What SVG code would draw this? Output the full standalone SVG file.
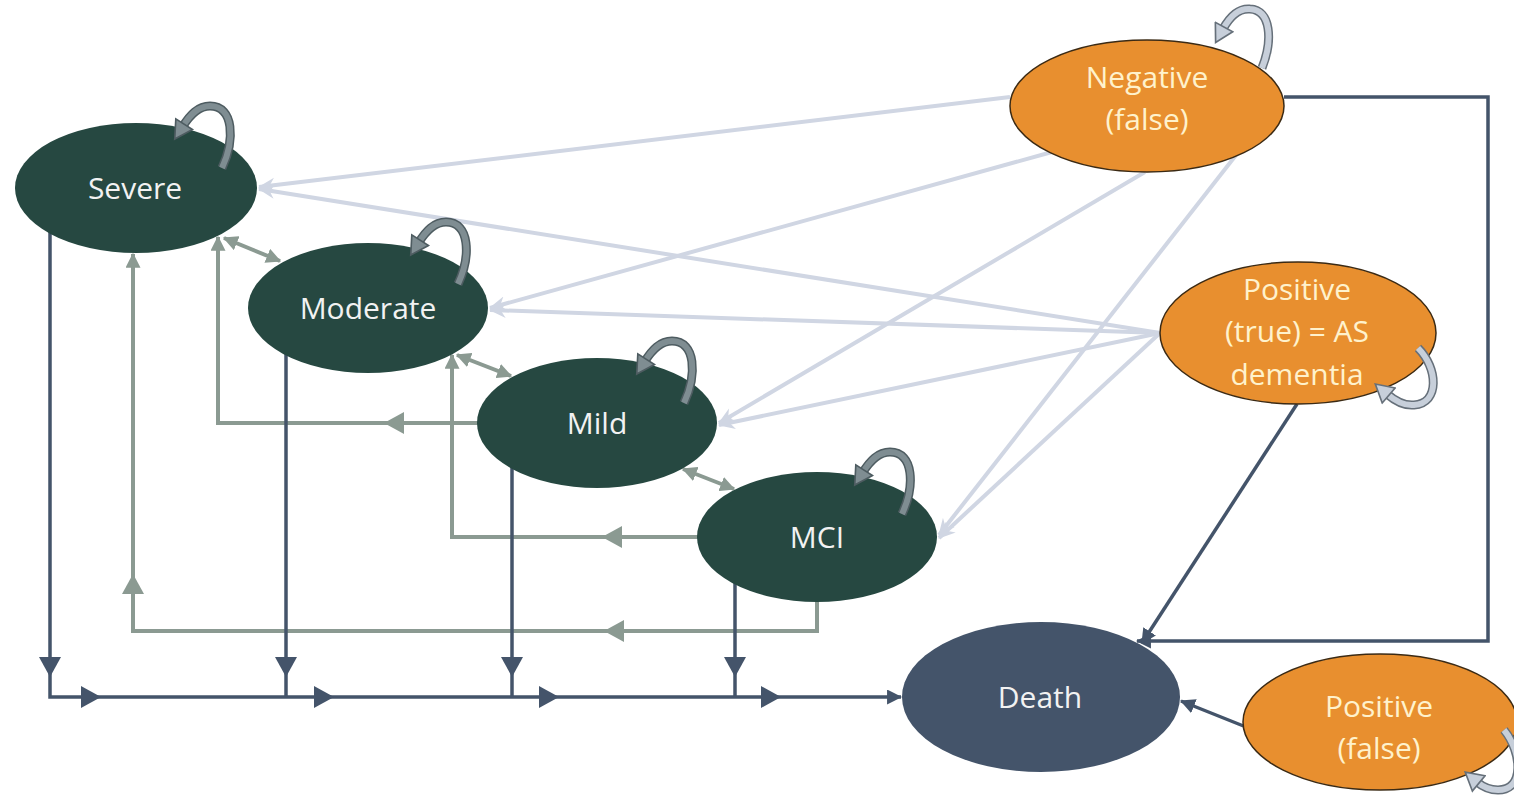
<svg xmlns="http://www.w3.org/2000/svg" xmlns:xlink="http://www.w3.org/1999/xlink" width="1514" height="796" viewBox="0 0 1514 796">
<style>
.bg{fill:#ffffff}
.dk{fill:#264841}
.death{fill:#44546A}
.or{fill:#E88F2F;stroke:#3B2A14;stroke-width:1.5}
.t{font-family:"Open Sans","Liberation Sans",sans-serif;font-size:30px;text-anchor:middle}
.tw{fill:#F2F2F2}
.tc{fill:#FFF2CC}
.blue{fill:none;stroke:#44546A;stroke-width:3.5;stroke-linejoin:miter}
.grey{fill:none;stroke:#8B9A92;stroke-width:4;stroke-linejoin:miter}
.light{fill:none;stroke:#D0D6E3;stroke-width:4}
.triB{fill:#44546A}
.triG{fill:#8B9A92}
.dlO{fill:none;stroke:#4E5C61;stroke-width:9;stroke-linecap:butt}
.dlI{fill:none;stroke:#7F8D92;stroke-width:6;stroke-linecap:butt}
.llO{fill:none;stroke:#66707A;stroke-width:9;stroke-linecap:butt}
.llI{fill:none;stroke:#C7CFDA;stroke-width:6;stroke-linecap:butt}
</style>
<defs>
<marker id="ahG" viewBox="0 0 12 12" refX="11" refY="6" markerWidth="15" markerHeight="15" markerUnits="userSpaceOnUse" orient="auto-start-reverse"><path d="M0 0 L12 6 L0 12 Z" fill="#8B9A92"/></marker>
<marker id="ahB" viewBox="0 0 14 14" refX="13" refY="7" markerWidth="15" markerHeight="15" markerUnits="userSpaceOnUse" orient="auto"><path d="M0 0 L14 7 L0 14 Z" fill="#44546A"/></marker>
<marker id="ahL" viewBox="0 0 16 16" refX="15" refY="8" markerWidth="17" markerHeight="17" markerUnits="userSpaceOnUse" orient="auto"><path d="M0 1 L16 8 L0 15 L5 8 Z" fill="#D0D6E3"/></marker>
<marker id="ahDL" viewBox="0 0 20 20" refX="4" refY="10" markerWidth="22" markerHeight="22" markerUnits="userSpaceOnUse" orient="auto"><path d="M2 1 L18 10 L2 19 Z" fill="#7F8D92" stroke="#4E5C61" stroke-width="1.5"/></marker>
<marker id="ahLL" viewBox="0 0 20 20" refX="4" refY="10" markerWidth="22" markerHeight="22" markerUnits="userSpaceOnUse" orient="auto"><path d="M2 1 L18 10 L2 19 Z" fill="#C7CFDA" stroke="#66707A" stroke-width="1.5"/></marker>
<path id="tri" d="M0 0 L-20 -11 L-20 11 Z"/>
<g id="darkLoop">
<path class="dlO" d="M86 -20 C99 -48 98 -82 74 -82 C62 -82 54 -73 47 -62"/>
<path class="dlI" d="M86 -20 C99 -48 98 -82 74 -82 C62 -82 54 -73 47 -62" marker-end="url(#ahDL)"/>
</g>
</defs>
<rect class="bg" x="0" y="0" width="1514" height="796"/>

<g id="connectors">
<line class="light" x1="1010" y1="97" x2="259" y2="187" marker-end="url(#ahL)"/>
<line class="light" x1="1052" y1="152" x2="490" y2="308" marker-end="url(#ahL)"/>
<line class="light" x1="1145" y1="172" x2="719" y2="423" marker-end="url(#ahL)"/>
<line class="light" x1="1240" y1="150" x2="939" y2="535" marker-end="url(#ahL)"/>
<line class="light" x1="1160" y1="333" x2="259" y2="189" marker-end="url(#ahL)"/>
<line class="light" x1="1160" y1="333" x2="490" y2="310" marker-end="url(#ahL)"/>
<line class="light" x1="1160" y1="333" x2="719" y2="425" marker-end="url(#ahL)"/>
<line class="light" x1="1160" y1="333" x2="939" y2="538" marker-end="url(#ahL)"/>

<polyline class="grey" points="500,423 218,423 218,237" marker-end="url(#ahG)"/>
<polyline class="grey" points="720,537 452,537 452,355" marker-end="url(#ahG)"/>
<polyline class="grey" points="817,590 817,631 133,631 133,254" marker-end="url(#ahG)"/>
<use href="#tri" class="triG" transform="translate(384,423) rotate(180)"/>
<use href="#tri" class="triG" transform="translate(602,537) rotate(180)"/>
<use href="#tri" class="triG" transform="translate(604,631) rotate(180)"/>
<use href="#tri" class="triG" transform="translate(133,574) rotate(-90)"/>

<line class="grey" x1="224" y1="238" x2="280" y2="261" marker-start="url(#ahG)" marker-end="url(#ahG)"/>
<line class="grey" x1="457" y1="355" x2="511" y2="376" marker-start="url(#ahG)" marker-end="url(#ahG)"/>
<line class="grey" x1="683" y1="469" x2="734" y2="489" marker-start="url(#ahG)" marker-end="url(#ahG)"/>

<polyline class="blue" points="50,220 50,697 901,697" marker-end="url(#ahB)"/>
<line class="blue" x1="286" y1="340" x2="286" y2="697"/>
<line class="blue" x1="512" y1="455" x2="512" y2="697"/>
<line class="blue" x1="735" y1="570" x2="735" y2="697"/>
<use href="#tri" class="triB" transform="translate(50,677) rotate(90)"/>
<use href="#tri" class="triB" transform="translate(286,677) rotate(90)"/>
<use href="#tri" class="triB" transform="translate(512,677) rotate(90)"/>
<use href="#tri" class="triB" transform="translate(735,677) rotate(90)"/>
<use href="#tri" class="triB" transform="translate(101,697)"/>
<use href="#tri" class="triB" transform="translate(334,697)"/>
<use href="#tri" class="triB" transform="translate(559,697)"/>
<use href="#tri" class="triB" transform="translate(781,697)"/>

<polyline class="blue" points="1284,97 1488,97 1488,641 1137,641" marker-end="url(#ahB)"/>
<line class="blue" x1="1297" y1="404" x2="1142" y2="643" marker-end="url(#ahB)"/>
<line class="blue" x1="1246" y1="727" x2="1181" y2="701" marker-end="url(#ahB)"/>
</g>

<g id="node-severe">
<ellipse class="dk" cx="136" cy="188" rx="121" ry="65"/>
<text class="t tw" x="135" y="199">Severe</text>
<use href="#darkLoop" transform="translate(136,188)"/>
</g>
<g id="node-moderate">
<ellipse class="dk" cx="368" cy="308" rx="120" ry="65"/>
<text class="t tw" x="368" y="319">Moderate</text>
<use href="#darkLoop" transform="translate(372,304)"/>
</g>
<g id="node-mild">
<ellipse class="dk" cx="597" cy="423" rx="120" ry="65"/>
<text class="t tw" x="597" y="434">Mild</text>
<use href="#darkLoop" transform="translate(598,423)"/>
</g>
<g id="node-mci">
<ellipse class="dk" cx="817" cy="537" rx="120" ry="65"/>
<text class="t tw" x="817" y="548">MCI</text>
<use href="#darkLoop" transform="translate(816,534)"/>
</g>
<g id="node-death">
<ellipse class="death" cx="1041" cy="697" rx="139" ry="75"/>
<text class="t tw" x="1040" y="708">Death</text>
</g>
<g id="node-negative">
<ellipse class="or" cx="1147" cy="106" rx="137" ry="66"/>
<text class="t tc" x="1147" y="88">Negative</text>
<text class="t tc" x="1147" y="130">(false)</text>
<path class="llO" d="M1262 68 C1273 40 1271 10 1250 9 C1238 8 1229 18 1223 29"/>
<path class="llI" d="M1262 68 C1273 40 1271 10 1250 9 C1238 8 1229 18 1223 29" marker-end="url(#ahLL)"/>
</g>
<g id="node-positive-true">
<ellipse class="or" cx="1298" cy="333" rx="138" ry="71"/>
<text class="t tc" x="1297" y="300">Positive</text>
<text class="t tc" x="1297" y="342">(true) = AS</text>
<text class="t tc" x="1297" y="385">dementia</text>
<path class="llO" d="M1418 348 C1438 368 1440 403 1414 405 C1403 406 1394 400 1387 394"/>
<path class="llI" d="M1418 348 C1438 368 1440 403 1414 405 C1403 406 1394 400 1387 394" marker-end="url(#ahLL)"/>
</g>
<g id="node-positive-false">
<ellipse class="or" cx="1380" cy="722" rx="137" ry="68"/>
<text class="t tc" x="1379" y="717">Positive</text>
<text class="t tc" x="1379" y="759">(false)</text>
<path class="llO" d="M1504 730 C1522 752 1525 790 1498 790 C1490 790 1483 787 1477 782"/>
<path class="llI" d="M1504 730 C1522 752 1525 790 1498 790 C1490 790 1483 787 1477 782" marker-end="url(#ahLL)"/>
</g>
</svg>
